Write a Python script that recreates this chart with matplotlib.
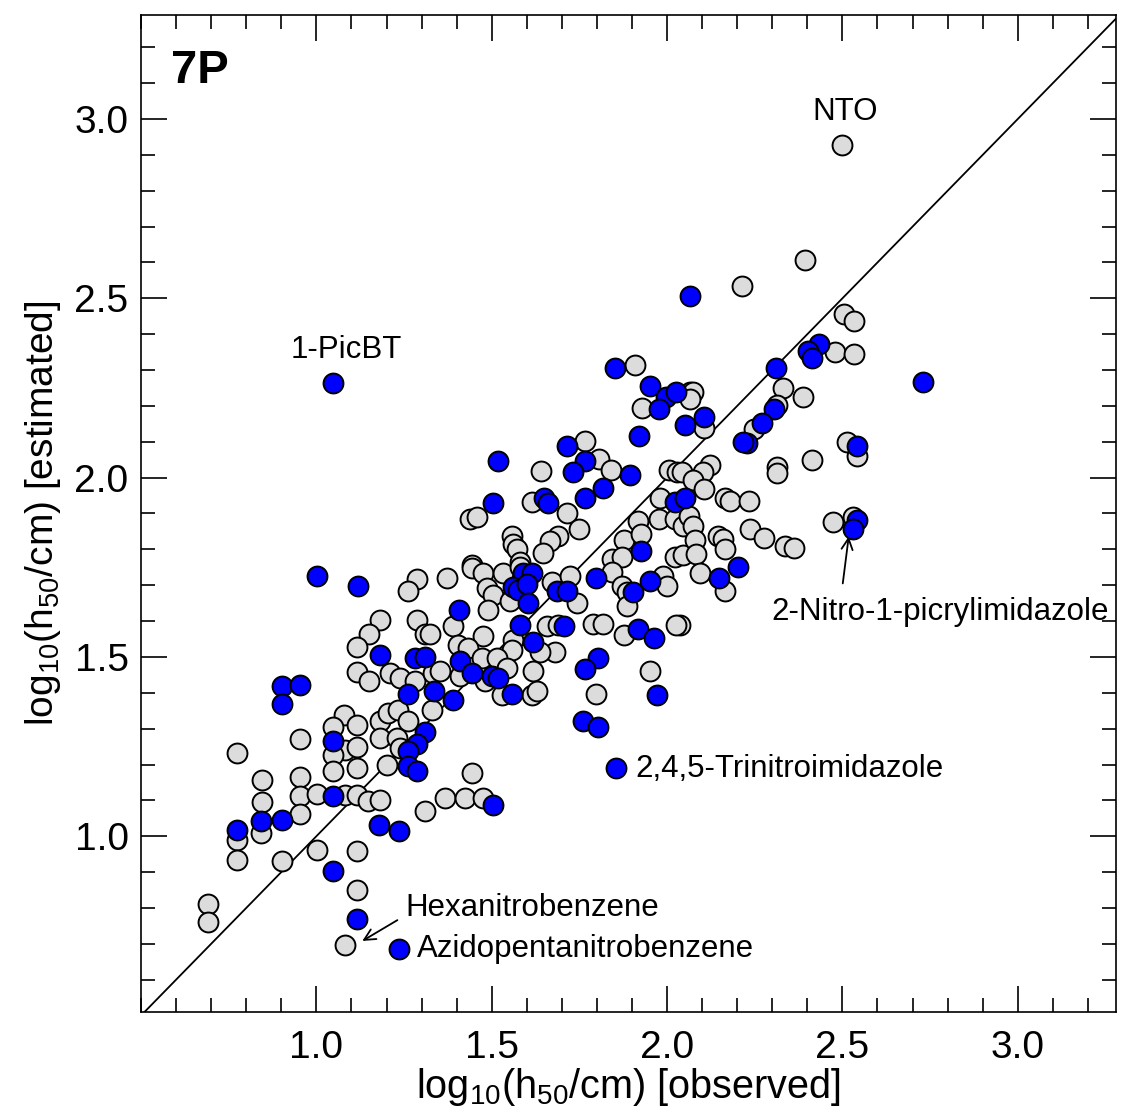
import matplotlib
matplotlib.use("Agg")
import matplotlib.pyplot as plt
from matplotlib.ticker import MultipleLocator

plt.rcParams['font.family'] = ['Liberation Sans', 'DejaVu Sans']
plt.rcParams['mathtext.fontset'] = 'custom'
plt.rcParams['mathtext.rm'] = 'Liberation Sans'

# grey points: compounds in the training set (observed, estimated)
gray_obs = [2.499, 2.214, 2.393, 2.504, 2.533, 2.479, 2.533, 1.909, 2.066, 1.929,
            2.330, 2.387, 2.074, 2.066, 2.105, 2.313, 2.248, 2.513, 2.541, 1.766,
            1.806, 1.840, 1.641, 2.006, 2.028, 1.615, 1.439, 1.459, 1.715, 1.749,
            1.980, 1.917, 1.977, 1.558, 1.561, 1.573, 1.689, 1.667, 1.647, 1.877,
            1.926, 1.444, 1.581, 1.843, 1.872, 2.023, 2.046, 2.023, 2.046, 2.123,
            2.103, 2.043, 2.313, 2.313, 2.413, 2.074, 2.105, 2.165, 2.179, 2.234,
            2.063, 2.074, 2.080, 2.083, 2.145, 2.160, 2.165, 2.236, 2.276, 2.336,
            2.362, 2.473, 2.530, 2.094, 2.165, 2.037, 1.288, 1.262, 1.373, 1.182,
            1.151, 1.117, 1.288, 1.311, 1.117, 1.151, 1.211, 1.239, 1.282, 1.333,
            1.080, 1.046, 1.117, 1.182, 1.205, 1.234, 1.262, 1.330, 0.954, 0.775,
            1.083, 1.117, 1.046, 1.182, 1.231, 1.239, 0.846, 0.954, 1.117, 1.046,
            1.202, 0.846, 0.954, 0.954, 1.003, 1.083, 1.117, 1.148, 1.182, 0.775,
            0.775, 0.843, 0.903, 1.003, 1.117, 1.117, 1.083, 0.692, 0.692, 1.311,
            1.444, 1.368, 1.424, 1.476, 1.444, 1.476, 1.533, 1.581, 1.487, 1.504,
            1.490, 1.553, 1.672, 1.724, 1.744, 1.843, 1.872, 1.886, 1.886, 1.989,
            2.000, 1.390, 1.325, 1.658, 1.689, 1.789, 1.818, 1.877, 2.026, 1.476,
            1.405, 1.433, 1.561, 1.558, 1.681, 1.638, 1.353, 1.410, 1.473, 1.481,
            1.516, 1.544, 1.618, 1.530, 1.615, 1.630, 1.952, 1.798]
gray_est = [2.928, 2.535, 2.607, 2.457, 2.437, 2.351, 2.345, 2.315, 2.240, 2.195,
            2.251, 2.226, 2.240, 2.220, 2.139, 2.203, 2.136, 2.100, 2.061, 2.103,
            2.053, 2.022, 2.019, 2.022, 2.017, 1.933, 1.886, 1.891, 1.900, 1.858,
            1.944, 1.880, 1.886, 1.836, 1.816, 1.802, 1.836, 1.822, 1.791, 1.827,
            1.844, 1.755, 1.766, 1.774, 1.780, 1.780, 1.783, 1.886, 1.866, 2.036,
            2.017, 2.017, 2.031, 2.014, 2.050, 1.992, 1.967, 1.942, 1.936, 1.936,
            1.894, 1.864, 1.825, 1.786, 1.838, 1.830, 1.802, 1.858, 1.833, 1.808,
            1.805, 1.875, 1.891, 1.733, 1.685, 1.588, 1.716, 1.685, 1.719, 1.602,
            1.563, 1.529, 1.604, 1.565, 1.457, 1.432, 1.454, 1.440, 1.432, 1.454,
            1.337, 1.304, 1.309, 1.320, 1.343, 1.351, 1.320, 1.351, 1.270, 1.231,
            1.240, 1.248, 1.226, 1.273, 1.273, 1.245, 1.156, 1.164, 1.189, 1.181,
            1.198, 1.095, 1.111, 1.061, 1.117, 1.114, 1.114, 1.097, 1.100, 0.989,
            0.933, 1.008, 0.930, 0.961, 0.958, 0.850, 0.696, 0.811, 0.760, 1.070,
            1.175, 1.106, 1.106, 1.106, 1.747, 1.733, 1.733, 1.752, 1.691, 1.674,
            1.630, 1.657, 1.710, 1.727, 1.649, 1.738, 1.699, 1.682, 1.643, 1.727,
            1.699, 1.585, 1.565, 1.585, 1.588, 1.591, 1.591, 1.560, 1.588, 1.557,
            1.532, 1.524, 1.546, 1.518, 1.515, 1.515, 1.460, 1.448, 1.496, 1.432,
            1.496, 1.468, 1.460, 1.393, 1.393, 1.404, 1.460, 1.396]

# blue points: compounds in the test set (observed, estimated)
blue_obs = [2.066, 2.433, 2.402, 2.413, 1.046, 2.729, 1.852, 2.311, 1.952, 1.997,
            2.026, 1.977, 2.105, 2.051, 2.305, 2.271, 2.228, 2.217, 1.920, 1.715,
            1.766, 1.732, 1.895, 1.519, 1.818, 1.766, 1.650, 1.661, 1.504, 2.023,
            2.051, 2.541, 2.541, 2.530, 1.926, 2.202, 2.148, 1.003, 1.120, 1.590,
            1.615, 1.561, 1.575, 1.601, 1.604, 1.687, 1.715, 1.798, 1.903, 1.952,
            1.407, 1.581, 1.707, 1.917, 1.963, 1.618, 1.410, 1.444, 1.501, 1.519,
            1.558, 1.336, 1.390, 1.803, 1.766, 1.972, 1.761, 1.803, 1.855, 1.182,
            1.282, 1.311, 0.903, 0.954, 0.903, 1.262, 1.046, 1.311, 1.288, 1.262,
            1.262, 1.288, 1.046, 0.775, 0.843, 0.903, 1.046, 1.117, 1.236, 1.179,
            1.236, 1.504]
blue_est = [2.507, 2.373, 2.354, 2.334, 2.265, 2.267, 2.306, 2.306, 2.256, 2.226,
            2.240, 2.192, 2.170, 2.148, 2.192, 2.153, 2.097, 2.100, 2.117, 2.089,
            2.047, 2.017, 2.006, 2.045, 1.972, 1.944, 1.942, 1.928, 1.928, 1.933,
            1.944, 2.089, 1.883, 1.858, 1.794, 1.752, 1.719, 1.727, 1.699, 1.733,
            1.735, 1.696, 1.688, 1.702, 1.649, 1.685, 1.685, 1.721, 1.682, 1.713,
            1.632, 1.588, 1.585, 1.579, 1.552, 1.543, 1.490, 1.454, 1.446, 1.440,
            1.398, 1.404, 1.379, 1.496, 1.465, 1.393, 1.320, 1.304, 1.189, 1.504,
            1.496, 1.501, 1.418, 1.421, 1.370, 1.398, 1.265, 1.292, 1.256, 1.237,
            1.195, 1.181, 1.111, 1.017, 1.042, 1.045, 0.903, 0.769, 0.685, 1.031,
            1.014, 1.086]

tick_vals = [1.0, 1.5, 2.0, 2.5, 3.0]
tick_labels = ['1.0', '1.5', '2.0', '2.5', '3.0']

fig = plt.figure(figsize=(11.31, 11.13), dpi=100)
ax = fig.add_axes([0.1247, 0.0908, 0.862, 0.8957])

lo, hi = 0.5, 3.29
ax.plot([lo, hi], [lo, hi], color='black', lw=1.3, zorder=1)

ax.scatter(gray_obs, gray_est, s=205, c='#dcdcdc', edgecolors='black',
           linewidths=1.4, zorder=2)
ax.scatter(blue_obs, blue_est, s=205, c='#0000ff', edgecolors='black',
           linewidths=1.4, zorder=3)

ax.set_xlim(0.5, 3.28)
ax.set_ylim(0.51, 3.29)

ax.xaxis.set_minor_locator(MultipleLocator(0.1))
ax.yaxis.set_minor_locator(MultipleLocator(0.1))
ax.set_xticks(tick_vals)
ax.set_yticks(tick_vals)
ax.set_xticklabels(tick_labels)
ax.set_yticklabels(tick_labels)
ax.tick_params(which='both', direction='in', top=True, right=True, width=1.2)
ax.tick_params(which='major', length=19, labelsize=28, pad=9)
ax.tick_params(axis='x', which='major', pad=13)
ax.tick_params(which='minor', length=10)
for sp in ax.spines.values():
    sp.set_linewidth(1.2)

ax.set_xlabel(r'log$_{10}$(h$_{50}$/cm) [observed]', fontsize=28.5, labelpad=0)
ax.set_ylabel(r'log$_{10}$(h$_{50}$/cm) [estimated]', fontsize=28, labelpad=8)

ax.text(0.585, 3.135, '7P', fontsize=34, fontweight='bold', ha='left', va='center')

lab = dict(fontsize=22.5, color='black')
ax.text(2.507, 3.02, 'NTO', ha='center', va='center', **lab)
ax.text(1.085, 2.355, '1-PicBT', ha='center', va='center', **lab)
ax.text(2.78, 1.625, '2-Nitro-1-picrylimidazole', ha='center', va='center', **lab)
ax.text(1.91, 1.187, '2,4,5-Trinitroimidazole', ha='left', va='center', **lab)
ax.text(1.254, 0.80, 'Hexanitrobenzene', ha='left', va='center', **lab)
ax.text(1.288, 0.685, 'Azidopentanitrobenzene', ha='left', va='center', **lab)

arrow = dict(arrowstyle='->', color='black', lw=1.3, mutation_scale=20,
             shrinkA=0, shrinkB=0)
ax.annotate('', xy=(2.518, 1.836), xytext=(2.501, 1.705), arrowprops=arrow)
ax.annotate('', xy=(1.131, 0.708), xytext=(1.231, 0.766), arrowprops=arrow)

fig.savefig('out.png', dpi=100)
